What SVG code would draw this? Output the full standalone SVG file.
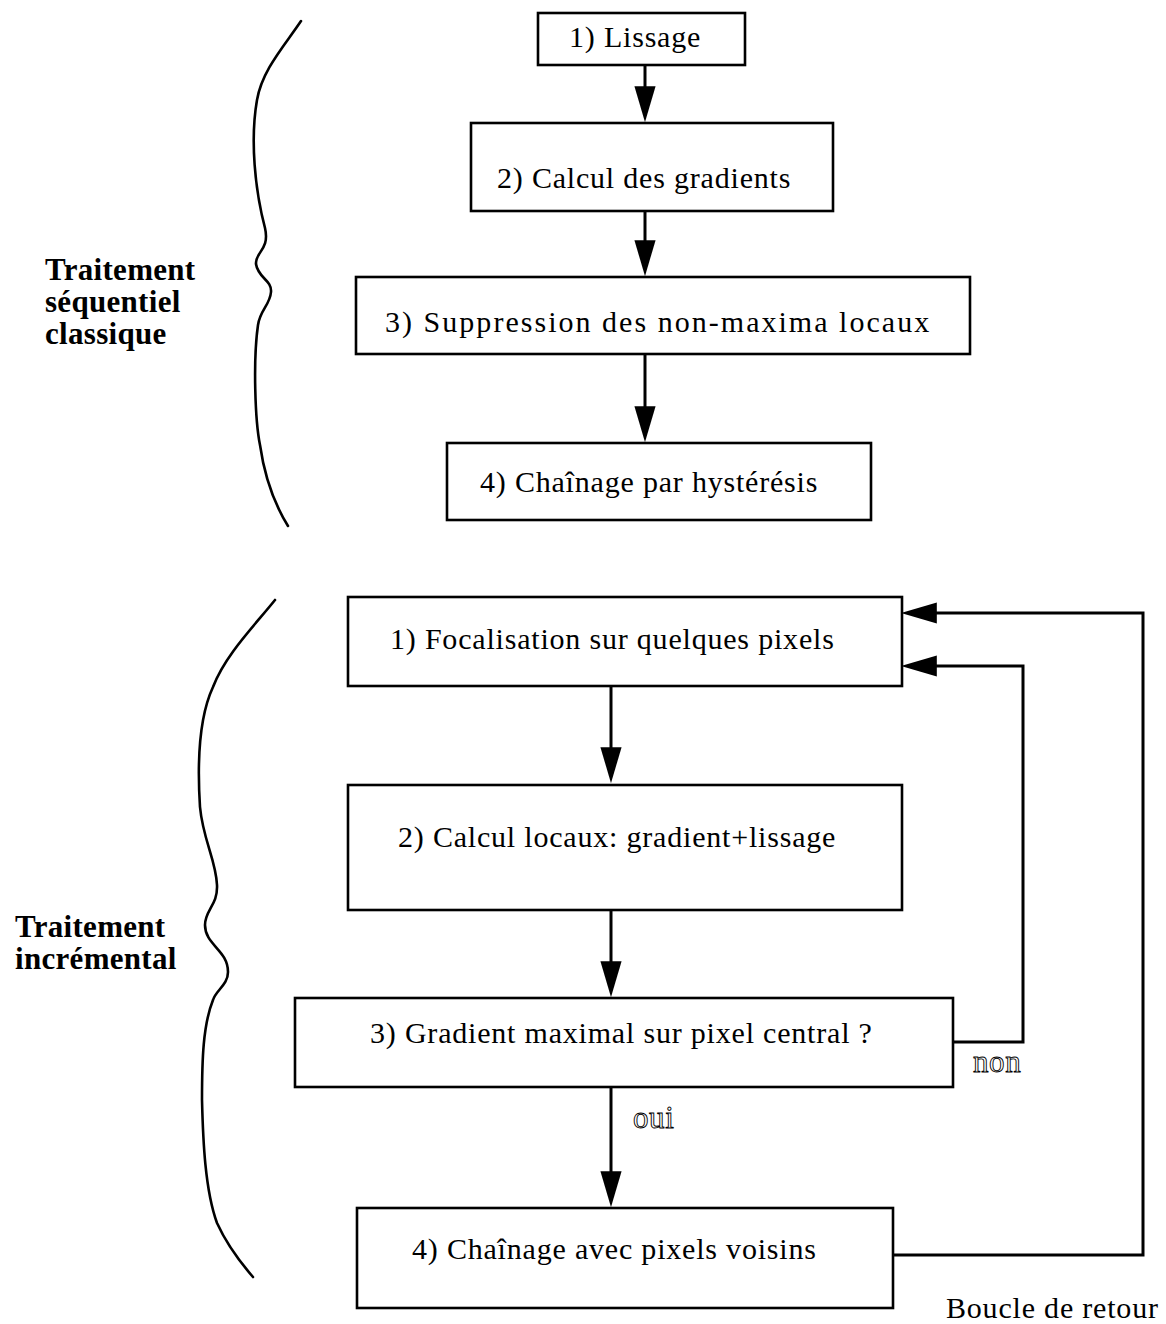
<svg xmlns="http://www.w3.org/2000/svg" width="1166" height="1324" viewBox="0 0 1166 1324">
<style>
  .box { fill: #fff; stroke: #000; stroke-width: 2.6; }
  .lbl { font-family: "Liberation Serif", "Times New Roman", serif; font-size: 30px; letter-spacing: 0.8px; fill: #000; }
  .side { font-family: "Liberation Serif", "Times New Roman", serif; font-size: 31px; letter-spacing: 0.3px; font-weight: bold; fill: #000; }
  .outline { font-family: "Liberation Serif", "Times New Roman", serif; font-size: 31px; letter-spacing: 0.6px; fill: #fff; stroke: #000; stroke-width: 0.9; }
  .wire { fill: none; stroke: #000; stroke-width: 3; }
  .brace { fill: none; stroke: #000; stroke-width: 2.6; stroke-linecap: round; }
</style>
<defs>
  <marker id="ah" markerUnits="userSpaceOnUse" markerWidth="36" markerHeight="22" viewBox="0 0 34 20" refX="14" refY="10" orient="auto">
    <path d="M0,0 L34,10 L0,20 z" fill="#000"/>
  </marker>
</defs>
<rect width="1166" height="1324" fill="#fff"/>

<g id="brace-sequentiel">
  <path class="brace" d="M301,21 C285,45 262,70 257,100 C250,140 255,190 265,228 C270,250 255,252 256,264 C258,278 272,280 271,292 C270,305 260,310 258,325 C253,360 255,420 260,445 C265,480 275,505 288,526"/>
</g>
<g id="brace-incremental">
  <path class="brace" d="M275,600 C255,625 225,655 213,687 C200,715 197,760 200,807 C203,840 216,860 217,885 C218,905 205,910 205,925 C205,945 228,950 228,972 C228,985 216,990 213,1000 C203,1025 202,1060 202,1100 C203,1140 205,1190 217,1223 C227,1245 240,1262 253,1277"/>
</g>

<g id="label-sequentiel">
  <text class="side" x="45" y="280">Traitement<tspan x="45" dy="32">séquentiel</tspan><tspan x="45" dy="32">classique</tspan></text>
</g>
<g id="label-incremental">
  <text class="side" x="15" y="937">Traitement<tspan x="15" dy="32">incrémental</tspan></text>
</g>

<g id="connectors">
  <line class="wire" x1="645" y1="65" x2="645" y2="101" marker-end="url(#ah)"/>
  <line class="wire" x1="645" y1="211" x2="645" y2="255" marker-end="url(#ah)"/>
  <line class="wire" x1="645" y1="354" x2="645" y2="421" marker-end="url(#ah)"/>
  <line class="wire" x1="611" y1="686" x2="611" y2="762" marker-end="url(#ah)"/>
  <line class="wire" x1="611" y1="910" x2="611" y2="976" marker-end="url(#ah)"/>
  <line class="wire" x1="611" y1="1087" x2="611" y2="1186" marker-end="url(#ah)"/>
  <polyline class="wire" points="953,1042 1023,1042 1023,666 922,666" marker-end="url(#ah)"/>
  <polyline class="wire" points="893,1255 1143,1255 1143,613 922,613" marker-end="url(#ah)"/>
  <text class="outline" x="973" y="1072">non</text>
  <text class="outline" x="633" y="1128">oui</text>
  <text class="lbl" x="946" y="1318">Boucle de retour</text>
</g>

<g id="s1"><rect class="box" x="538" y="13" width="207" height="52"/><text class="lbl" x="569" y="47">1) Lissage</text></g>
<g id="s2"><rect class="box" x="471" y="123" width="362" height="88"/><text class="lbl" x="497" y="188">2) Calcul des gradients</text></g>
<g id="s3"><rect class="box" x="356" y="277" width="614" height="77"/><text class="lbl" x="385" y="332" textLength="545" lengthAdjust="spacing">3) Suppression des non-maxima locaux</text></g>
<g id="s4"><rect class="box" x="447" y="443" width="424" height="77"/><text class="lbl" x="480" y="492">4) Chaînage par hystérésis</text></g>

<g id="i1"><rect class="box" x="348" y="597" width="554" height="89"/><text class="lbl" x="390" y="649">1) Focalisation sur quelques pixels</text></g>
<g id="i2"><rect class="box" x="348" y="785" width="554" height="125"/><text class="lbl" x="398" y="847">2) Calcul locaux: gradient+lissage</text></g>
<g id="i3"><rect class="box" x="295" y="998" width="658" height="89"/><text class="lbl" x="370" y="1043">3) Gradient maximal sur pixel central ?</text></g>
<g id="i4"><rect class="box" x="357" y="1208" width="536" height="100"/><text class="lbl" x="412" y="1259">4) Chaînage avec pixels voisins</text></g>
</svg>
